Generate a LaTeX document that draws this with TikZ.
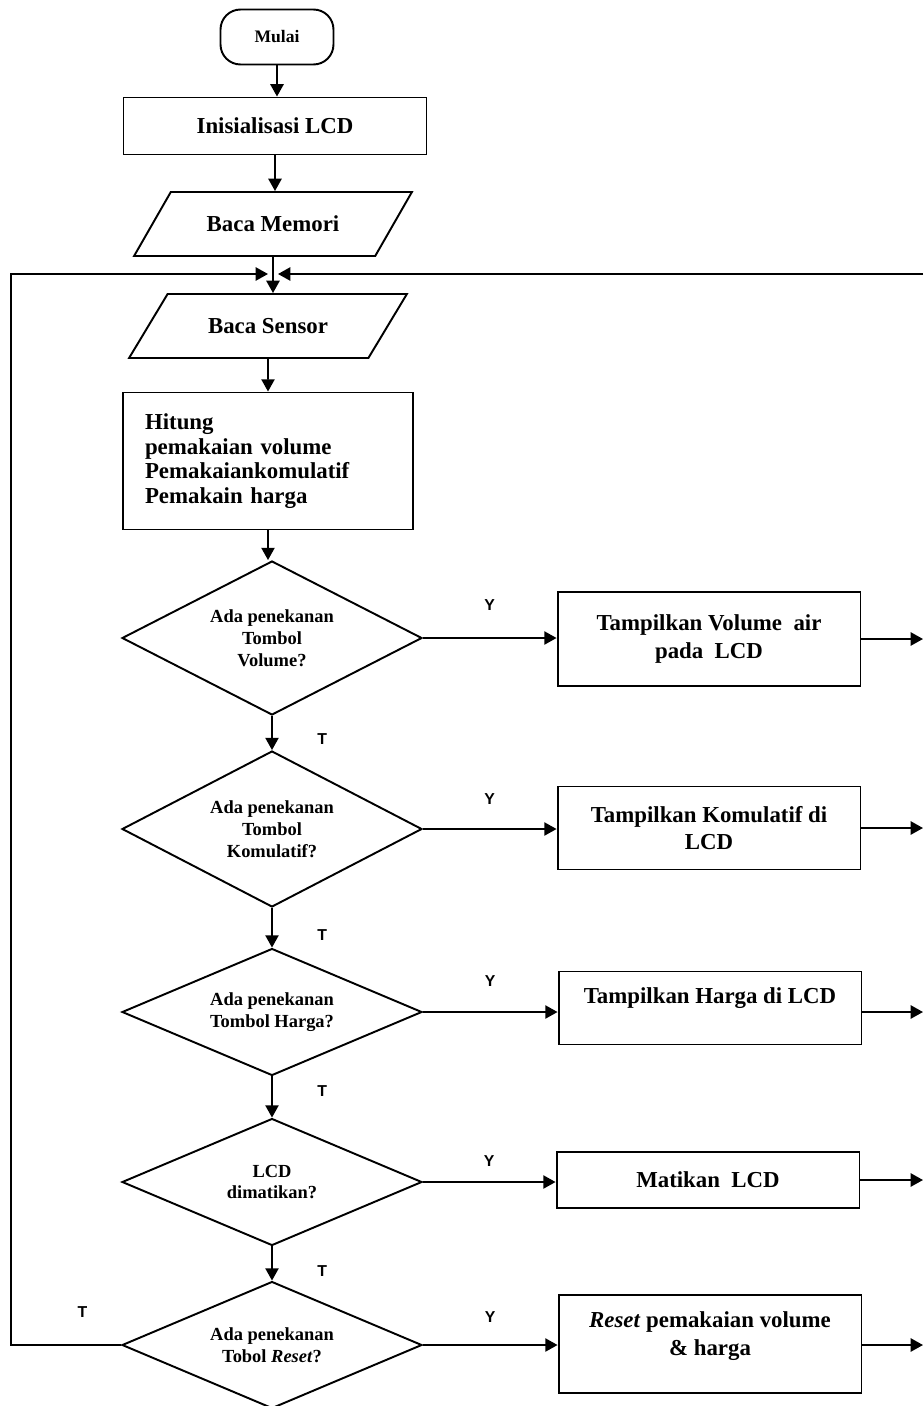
\documentclass[tikz,border=0pt]{standalone}
\usepackage{fontspec}
\setmainfont{Liberation Serif}
\newfontfamily\labelfont{Liberation Sans}
\usetikzlibrary{calc,arrows.meta,shapes.geometric}

\begin{document}
\begin{tikzpicture}[x=0.02cm, y=-0.02cm, line width=1.1pt,
    arr/.style={draw, -{Triangle[length=7pt, width=7.5pt]}},
    terminal/.style={draw, rectangle, rounded corners=0.4cm, minimum width=2.26cm, minimum height=1.1cm, font=\bfseries\fontsize{10}{12}\selectfont},
    proses/.style={draw, rectangle, align=center, minimum width=6.06cm, font=\bfseries\fontsize{13}{15.5}\selectfont},
    io/.style={draw, trapezium, trapezium left angle=47, trapezium right angle=133, trapezium stretches=true, minimum width=5.56cm, minimum height=1.28cm, font=\bfseries\fontsize{13}{15.5}\selectfont},
    keputusan/.style={draw, diamond, aspect=2, inner sep=0pt, align=center, minimum width=6cm, minimum height=2.54cm, font=\bfseries\fontsize{10.5}{12.5}\selectfont},
    yt/.style={font=\labelfont\bfseries\fontsize{9}{10}\selectfont}]
    \useasboundingbox (0,0) rectangle (923,1406);

    % alur utama
    \node[terminal](mulai) at (277,37) {Mulai};
    \node[proses, minimum height=1.14cm](init) at (275,126) {Inisialisasi LCD};
    \node[io](mem) at (273,224) {Baca Memori};
    \coordinate(jn) at (273,274); % titik temu loop
    \node[io](sensor) at (268,326) {Baca Sensor};
    \node[proses, align=left, minimum width=5.8cm, minimum height=2.74cm, inner xsep=0.44cm, text width=4.92cm, font=\bfseries\fontsize{13}{14}\selectfont](hitung) at (268,461)
        {Hitung\\pemakaian volume\\Pemakaiankomulatif\\Pemakain harga};

    % keputusan
    \node[keputusan, minimum height=3.08cm](d1) at (272,638) {Ada penekanan\\Tombol\\Volume?};
    \node[keputusan, minimum height=3.12cm](d2) at (272,829) {Ada penekanan\\Tombol\\Komulatif?};
    \node[keputusan](d3) at (272,1012) {Ada penekanan\\Tombol Harga?};
    \node[keputusan](d4) at (272,1182) {LCD\\dimatikan?};
    \node[keputusan](d5) at (272,1345) {Ada penekanan\\Tobol \textit{Reset}?};

    % tampilan
    \node[proses, minimum height=1.88cm](b1) at (709,639) {Tampilkan Volume\ \ air\\pada\ \ LCD};
    \node[proses, minimum height=1.66cm](b2) at (709,828) {Tampilkan Komulatif di\\LCD};
    \node[proses, minimum height=1.46cm, text depth=0.5cm](b3) at (710,1008) {Tampilkan Harga di LCD};
    \node[proses, minimum height=1.12cm](b4) at (708,1180) {Matikan\ \ LCD};
    \node[proses, minimum height=1.96cm, text depth=0.42cm](b5) at (710,1344) {\textit{Reset} pemakaian volume\\\& harga};

    \coordinate(kiri) at (11,1345);
    \coordinate(kanan) at (923,274);

    % panah vertikal
    \path[draw, arr](mulai.south)to(mulai.south |- init.north);
    \path[draw, arr](init.south)to(init.south |- mem.north);
    \path[draw](mem.south)to(jn);
    \path[draw, arr](jn)to(jn |- sensor.north);
    \path[draw, arr](sensor)to(hitung);
    \path[draw, arr](hitung.south)to(hitung.south |- d1.north);
    \path[draw, arr](d1.south)to node[yt, pos=0.68, right=0.77cm]{T} (d2.north);
    \path[draw, arr](d2.south)to node[yt, pos=0.68, right=0.77cm]{T} (d3.north);
    \path[draw, arr](d3.south)to node[yt, pos=0.36, right=0.77cm]{T} (d4.north);
    \path[draw, arr](d4.south)to node[yt, pos=0.73, right=0.77cm]{T} (d5.north);

    % cabang Y
    \path[draw, arr](d1.east)to node[yt, midway, above=0.41cm]{Y} (b1.west |- d1.east);
    \path[draw, arr](d2.east)to node[yt, midway, above=0.35cm]{Y} (b2.west |- d2.east);
    \path[draw, arr](d3.east)to node[yt, midway, above=0.37cm]{Y} (b3.west |- d3.east);
    \path[draw, arr](d4.east)to node[yt, midway, above=0.17cm]{Y} (b4.west |- d4.east);
    \path[draw, arr](d5.east)to node[yt, midway, above=0.31cm]{Y} (b5.west |- d5.east);

    % keluar ke kanan
    \foreach \b in {b1,b2,b4}{
        \path[draw, arr](\b.east)to(\b.east -| kanan);
    }
    \path[draw, arr](b3.east |- d3.east)to(d3.east -| kanan);
    \path[draw, arr](b5.east |- d5.east)to(d5.east -| kanan);

    % loop kembali
    \path[draw, arr, shorten >=0.1cm](d5.west)to node[yt, pos=0.35, above=0.42cm]{T} (kiri) |- (jn);
    \path[draw, arr, shorten >=0.1cm](kanan)to(jn);
\end{tikzpicture}
\end{document}
